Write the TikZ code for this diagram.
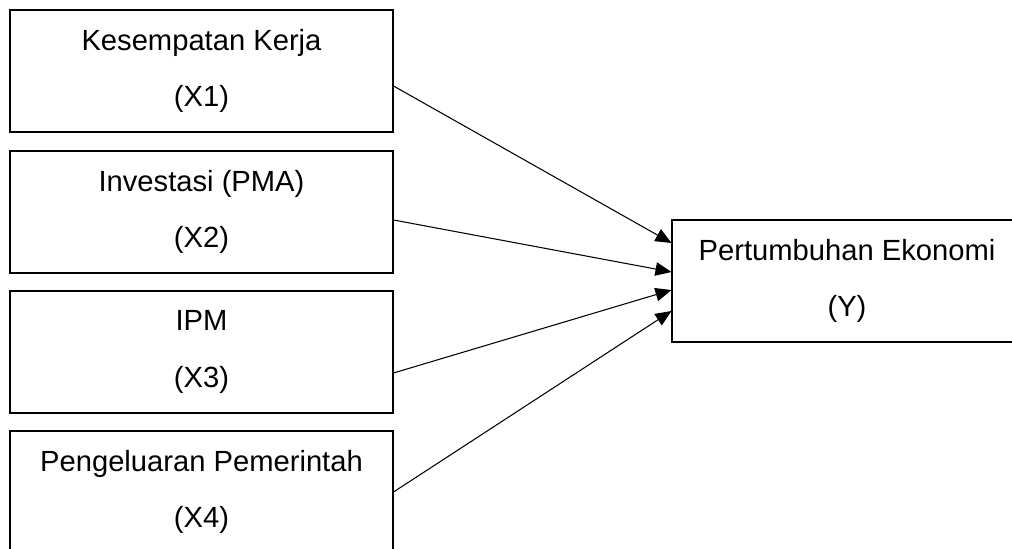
\documentclass[tikz,border=0pt]{standalone}
\usepackage{fontspec}
\setmainfont{Liberation Sans}
\usetikzlibrary{%
  arrows.meta,%
  positioning%
}

\begin{document}
\begin{tikzpicture}
  [
  line width=0.6pt,
  draw=black, >={Triangle[length=0.32cm,width=0.27cm]},
  varnode/.style={rectangle, inner sep = 0pt, minimum width = 7.66cm, minimum height = 2.44cm, draw=black, align=center, font=\fontsize{16.6}{31.9}\selectfont},
  ynode/.style={varnode, minimum width = 7cm},
  ]
  \useasboundingbox (0,0) rectangle (20.24,10.98);

  \node[varnode] (x1) at (4.03,9.56) {Kesempatan Kerja\\(X1)};
  \node[varnode] (x2) at (4.03,6.74) {Investasi (PMA)\\(X2)};
  \node[varnode] (x3) at (4.03,3.94) {IPM\\(X3)};
  \node[varnode] (x4) at (4.03,1.14) {Pengeluaran Pemerintah\\(X4)};

  \node[ynode] (y) at (16.94,5.36) {Pertumbuhan Ekonomi\\(Y)};

  \draw[->] ([yshift=-0.30cm]x1.east) -- ([yshift=0.76cm]y.west);
  \draw[->] ([yshift=-0.16cm]x2.east) -- ([yshift=0.18cm]y.west);
  \draw[->] ([yshift=-0.42cm]x3.east) -- ([yshift=-0.18cm]y.west);
  \draw[->] (x4.east) -- ([yshift=-0.60cm]y.west);
\end{tikzpicture}
\end{document}
